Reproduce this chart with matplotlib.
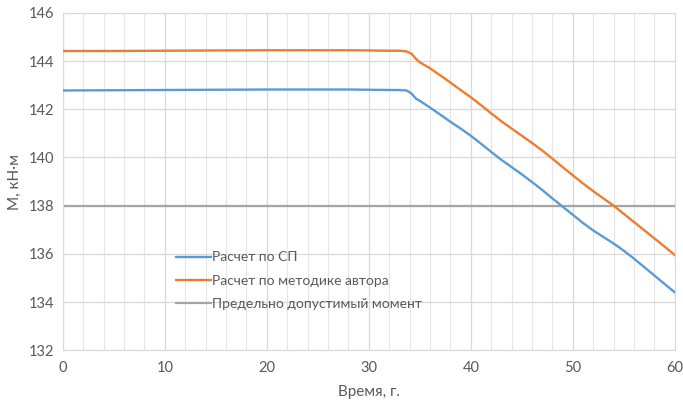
import matplotlib.pyplot as plt
import matplotlib.ticker as ticker

plt.rcParams.update({
  'font.family'      : ['Lato', 'DejaVu Sans'],
  'font.size'        : 9.5,
  'figure.facecolor' : 'w',
  'figure.dpi'       : 100,
  'figure.figsize'   : (6.83, 4.03),
})

# Time, years
years = [0, 5, 10, 15, 20, 25, 28, 30, 32, 33, 33.7, 34.2, 34.6, 35,
         36, 37, 38, 39, 40, 41, 42, 43, 44, 45, 46, 47, 48, 49, 50,
         51, 52, 53, 54, 55, 56, 57, 58, 59, 60]

# Moment by SP method
m_sp = [142.78, 142.79, 142.8, 142.81, 142.82, 142.82, 142.82, 142.81, 142.8, 142.8,
        142.78, 142.65, 142.45, 142.35,
        142.07, 141.78, 141.48, 141.2, 140.9, 140.57, 140.23, 139.9, 139.6, 139.3,
        138.98, 138.65, 138.3, 137.96, 137.62, 137.28, 136.97, 136.7, 136.43, 136.13,
        135.8, 135.45, 135.1, 134.75, 134.4]

# Moment by author's method
m_author = [144.42, 144.42, 144.43, 144.44, 144.45, 144.45, 144.45, 144.44, 144.43, 144.43,
            144.4, 144.3, 144.1, 143.95,
            143.7, 143.41, 143.11, 142.8, 142.5, 142.17, 141.83, 141.5, 141.2, 140.9,
            140.6, 140.29, 139.95, 139.6, 139.26, 138.92, 138.6, 138.3, 138.0, 137.66,
            137.32, 136.98, 136.64, 136.3, 135.95]

m_limit = 138

labels = ['Расчет по СП', 'Расчет по методике автора', 'Предельно допустимый момент']

fig, ax = plt.subplots()
plt.subplots_adjust(left=0.092, right=0.988, top=0.968, bottom=0.131)

ax.plot(years, m_sp, color='#5b9bd5', linewidth=1.7, label=labels[0], zorder=3)
ax.plot(years, m_author, color='#ed7d31', linewidth=1.7, label=labels[1], zorder=3)
ax.axhline(m_limit, color='#a5a5a5', linewidth=1.6, label=labels[2], zorder=2)

ax.set_xlim(0, 60)
ax.set_ylim(132, 146)
ax.xaxis.set_major_locator(ticker.MultipleLocator(10))
ax.xaxis.set_minor_locator(ticker.MultipleLocator(2))
ax.yaxis.set_major_locator(ticker.MultipleLocator(2))

ax.grid(which='major', color='#d9d9d9', linewidth=0.9)
ax.grid(which='minor', axis='x', color='#e6e6e6', linewidth=0.8)
ax.set_axisbelow(True)

for s in ax.spines.values():
    s.set_color('#d9d9d9')
ax.tick_params(which='both', length=0, colors='#595959', labelsize=10.5)
ax.tick_params(axis='x', pad=8)
ax.tick_params(axis='y', pad=6)

ax.set_xlabel('Время, г.', color='#595959', fontsize=11, labelpad=7)
ax.set_ylabel('M, кН·м', color='#595959', fontsize=11, labelpad=5)

leg = ax.legend(loc='upper left', bbox_to_anchor=(0.165, 0.33), frameon=False,
                fontsize=10, handlelength=2.5, handletextpad=0.1, labelspacing=0.8)
for t in leg.get_texts():
    t.set_color('#595959')

plt.savefig('out.png')
